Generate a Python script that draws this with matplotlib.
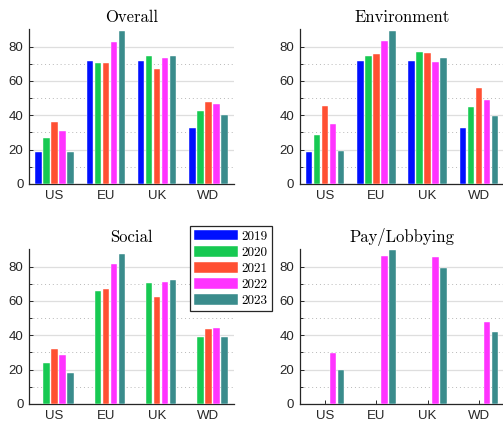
import numpy as np
import matplotlib.pyplot as plt
from matplotlib.ticker import MultipleLocator, FixedLocator

regions = ["US", "EU", "UK", "WD"]
years = ["2019", "2020", "2021", "2022", "2023"]
colors = ["#0010ff", "#17c952", "#ff5033", "#ff33ff", "#3a8c8c"]

# rows = years, columns = regions
overall = [
    [18.6, 71.4, 71.4, 32.7],
    [26.7, 70.2, 74.2, 42.2],
    [36.1, 70.2, 67.0, 47.6],
    [31.0, 82.9, 73.6, 46.6],
    [18.8, 88.9, 74.2, 40.0],
]
environment = [
    [18.6, 71.4, 71.4, 32.7],
    [28.6, 74.2, 77.0, 44.7],
    [45.1, 75.6, 76.0, 55.9],
    [34.7, 83.3, 70.8, 49.0],
    [19.0, 89.0, 73.3, 39.8],
]
social = [
    [np.nan, np.nan, np.nan, np.nan],
    [23.7, 65.8, 70.6, 39.0],
    [31.8, 66.8, 62.4, 43.6],
    [28.4, 81.5, 71.1, 44.2],
    [18.2, 87.2, 72.4, 39.0],
]
pay_lobbying = [
    [np.nan, np.nan, np.nan, np.nan],
    [np.nan, np.nan, np.nan, np.nan],
    [np.nan, np.nan, np.nan, np.nan],
    [29.6, 86.2, 85.4, 47.8],
    [20.0, 89.7, 79.4, 42.0],
]

panels = [
    ("Overall", overall),
    ("Environment", environment),
    ("Social", social),
    ("Pay/Lobbying", pay_lobbying),
]

plt.rcParams["font.family"] = ["Liberation Sans", "DejaVu Sans"]
serif = ["cmr10", "DejaVu Serif"]

fig = plt.figure(figsize=(5.03, 4.22), dpi=100)
W, H = 503, 422
boxes = [(29, 29), (299.5, 29), (29, 249), (299.5, 249)]
ax_w, ax_h = 205, 155

x = np.arange(1, len(regions) + 1)
step = 0.156
width = 0.123

for (title, data), (left, top) in zip(panels, boxes):
    ax = fig.add_axes([left / W, (H - top - ax_h) / H, ax_w / W, ax_h / H])
    for i, (yr, c) in enumerate(zip(years, colors)):
        ax.bar(x + (i - 2) * step, data[i], width=width, color=c,
               edgecolor="#ffffff", linewidth=0.3, label=yr, zorder=3)
    ax.set_xlim(0.5, 4.5)
    ax.set_ylim(0, 90.2)
    ax.set_xticks(x)
    ax.set_xticklabels(regions)
    ax.yaxis.set_major_locator(MultipleLocator(20))
    ax.yaxis.set_minor_locator(FixedLocator([10, 30, 50, 70]))
    ax.grid(True, axis="y", which="major", color="#dedede", linewidth=0.9, zorder=0)
    ax.grid(True, axis="y", which="minor", color="#b8b8b8", linewidth=0.7,
            linestyle=(0, (1, 3)), zorder=0)
    ax.set_axisbelow(True)
    for s in ("top", "right"):
        ax.spines[s].set_visible(False)
    for s in ("left", "bottom"):
        ax.spines[s].set_color("#262626")
        ax.spines[s].set_linewidth(0.9)
    ax.tick_params(axis="both", which="both", direction="in", colors="#262626",
                   labelsize=9.5, length=3, width=0.7, pad=4)
    ax.tick_params(axis="y", which="minor", length=1.8)
    ax.tick_params(axis="x", which="minor", bottom=False)
    ax.set_title(title, fontsize=12, family=serif, pad=5)
    if title == "Social":
        handles, labels = ax.get_legend_handles_labels()

leg = fig.legend(handles, labels, loc="upper left",
                 bbox_to_anchor=(190 / W, (H - 226) / H),
                 prop={"family": serif, "size": 9.5},
                 handlelength=3.3, handleheight=0.85, handletextpad=0.3,
                 labelspacing=0.25, borderpad=0.3, borderaxespad=0,
                 fancybox=False, framealpha=1, edgecolor="#262626")
leg.get_frame().set_linewidth(0.9)

fig.savefig("out.png", dpi=100)
